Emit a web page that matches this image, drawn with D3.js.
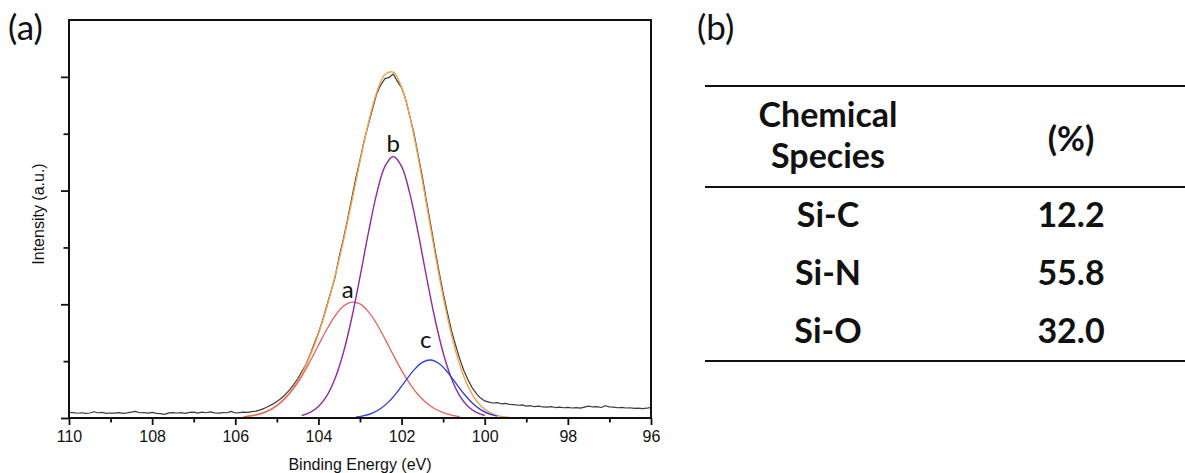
<!DOCTYPE html>
<html>
<head>
<meta charset="utf-8">
<script src="https://cdn.jsdelivr.net/npm/d3@7"></script>
<style>
  html, body { margin: 0; padding: 0; background: #ffffff; }
  svg { display: block; }
</style>
</head>
<body>
<svg id="fig" width="1185" height="473"></svg>
<script>
// ---------- Si 2p spectrum: binding energy (eV) vs intensity (a.u.) ----------
const xMajorTicks = [110, 108, 106, 104, 102, 100, 98, 96];
const xMinorTicks = [109, 107, 105, 103, 101, 99, 97];
const yMajorTicks = [0, 1, 2, 3];
const yMinorTicks = [0.5, 1.5, 2.5];

// measured spectrum [BE, intensity]
const rawSpectrum = [
  [110.0,.050],[109.9,.048],[109.8,.042],[109.7,.046],[109.6,.040],[109.5,.044],[109.4,.055],[109.3,.046],[109.2,.050],[109.1,.041],
  [109.0,.044],[108.9,.043],[108.8,.047],[108.7,.040],[108.6,.045],[108.5,.052],[108.4,.058],[108.3,.046],[108.2,.048],[108.1,.043],
  [108.0,.050],[107.9,.041],[107.8,.038],[107.7,.032],[107.6,.045],[107.5,.048],[107.4,.044],[107.3,.047],[107.2,.040],[107.1,.049],
  [107.0,.052],[106.9,.043],[106.8,.051],[106.7,.046],[106.6,.054],[106.5,.045],[106.4,.043],[106.3,.047],[106.2,.046],[106.1,.058],
  [106.0,.044],[105.9,.048],[105.8,.052],[105.7,.050],[105.6,.056],[105.5,.061],[105.4,.072],[105.3,.085],[105.2,.103],[105.1,.122],
  [105.0,.146],[104.9,.172],[104.8,.205],[104.7,.245],[104.6,.292],[104.5,.345],[104.4,.408],[104.3,.470],[104.2,.556],[104.1,.655],
  [104.0,.748],[103.9,.860],[103.8,.985],[103.7,1.110],[103.6,1.238],[103.5,1.420],[103.4,1.575],[103.3,1.745],[103.2,1.930],[103.1,2.110],
  [103.0,2.270],[102.9,2.440],[102.8,2.580],[102.7,2.715],[102.6,2.850],[102.5,2.930],[102.4,2.985],[102.3,2.995],[102.2,3.025],[102.1,2.960],
  [102.0,2.905],[101.9,2.800],[101.8,2.650],[101.7,2.500],[101.6,2.310],[101.5,2.120],[101.4,1.905],[101.3,1.700],[101.2,1.490],[101.1,1.290],
  [101.0,1.100],[100.9,.930],[100.8,.770],[100.7,.640],[100.6,.520],[100.5,.415],[100.4,.335],[100.3,.265],[100.2,.215],[100.1,.175],
  [100.0,.150],[99.9,.140],[99.8,.132],[99.7,.135],[99.6,.125],[99.5,.128],[99.4,.120],[99.3,.118],[99.2,.112],[99.1,.115],
  [99.0,.105],[98.9,.108],[98.8,.100],[98.7,.104],[98.6,.097],[98.5,.095],[98.4,.100],[98.3,.092],[98.2,.095],[98.1,.090],
  [98.0,.094],[97.9,.088],[97.8,.092],[97.7,.087],[97.6,.096],[97.5,.105],[97.4,.097],[97.3,.100],[97.2,.092],[97.1,.108],
  [97.0,.098],[96.9,.095],[96.8,.090],[96.7,.093],[96.6,.088],[96.5,.090],[96.4,.085],[96.3,.087],[96.2,.083],[96.1,.086],
  [96.0,.094]
];

// fitted envelope
const fitEnvelope = [
  [105.8,.010],[105.6,.020],[105.4,.037],[105.2,.065],[105.0,.110],[104.8,.176],[104.6,.268],[104.4,.391],[104.2,.548],[104.0,.741],
  [103.8,.974],[103.6,1.247],[103.4,1.558],[103.2,1.901],[103.0,2.257],[102.8,2.591],[102.6,2.861],[102.4,3.021],[102.2,3.041],[102.0,2.911],
  [101.8,2.650],[101.6,2.290],[101.4,1.879],[101.2,1.459],[101.0,1.067],[100.8,.733],[100.6,.468],[100.4,.278],[100.2,.152],[100.0,.076],
  [99.8,.034],[99.6,.014],[99.4,.005]
];

// component a (Si-C)
const peakA = [
  [105.8,.010],[105.6,.020],[105.4,.037],[105.2,.065],[105.0,.109],[104.8,.173],[104.6,.259],[104.4,.369],[104.2,.499],[104.0,.640],
  [103.8,.778],[103.6,.898],[103.4,.982],[103.2,1.019],[103.0,1.003],[102.8,.936],[102.6,.829],[102.4,.696],[102.2,.555],[102.0,.419],
  [101.8,.301],[101.6,.204],[101.4,.132],[101.2,.081],[101.0,.047],[100.8,.026],[100.6,.013]
];

// component b (Si-N)
const peakB = [
  [104.4,.022],[104.2,.049],[104.0,.101],[103.8,.195],[103.6,.348],[103.4,.574],[103.2,.877],[103.0,1.241],[102.8,1.625],[102.6,1.971],
  [102.4,2.213],[102.2,2.300],[102.0,2.213],[101.8,1.971],[101.6,1.625],[101.4,1.241],[101.2,.877],[101.0,.574],[100.8,.348],[100.6,.195],
  [100.4,.101],[100.2,.049],[100.0,.022]
];

// component c (Si-O)
const peakC = [
  [103.1,.008],[102.9,.020],[102.7,.043],[102.5,.083],[102.3,.146],[102.1,.231],[101.9,.329],[101.7,.423],[101.5,.489],[101.3,.510],
  [101.1,.479],[100.9,.405],[100.7,.309],[100.5,.213],[100.3,.132],[100.1,.074],[99.9,.037],[99.7,.017]
];

// peak labels: letter, BE and intensity of the apex they sit above
const peakLabels = ["a", "b", "c"];
const peakLabelBE = [103.2, 102.2, 101.3];
const peakLabelI = [1.019, 2.300, 0.510];

// composition table
const tableSpecies = ["Si-C", "Si-N", "Si-O"];
const tablePercent = [12.2, 55.8, 32.0];
const tableHeader = [["Chemical", "Species"], ["(%)"]];

// ---------- layout ----------
const svg = d3.select("#fig");
const plot = { left: 69, right: 651, top: 20, bottom: 418 };

const x = d3.scaleLinear().domain([110, 96]).range([plot.left, plot.right]);
const y = d3.scaleLinear().domain([0, 3.5]).range([plot.bottom, plot.top]);

const axisFont = "'Liberation Sans', Arial, sans-serif";
const calFont = "Lato, 'Open Sans', sans-serif";

// curves
const line = d3.line().x(d => x(d[0])).y(d => y(d[1]));
const smooth = d3.line().x(d => x(d[0])).y(d => y(d[1])).curve(d3.curveCatmullRom.alpha(0.5));

const g = svg.append("g");
g.append("path").datum(rawSpectrum).attr("d", line)
  .attr("fill", "none").attr("stroke", "#3c3c3c").attr("stroke-width", 1.2).attr("stroke-linejoin", "round");
g.append("path").datum(fitEnvelope).attr("d", smooth)
  .attr("fill", "none").attr("stroke", "#f3a24a").attr("stroke-width", 1.4);
g.append("path").datum(peakA).attr("d", smooth)
  .attr("fill", "none").attr("stroke", "#e8625c").attr("stroke-width", 1.3);
g.append("path").datum(peakB).attr("d", smooth)
  .attr("fill", "none").attr("stroke", "#8f2aa0").attr("stroke-width", 1.4);
g.append("path").datum(peakC).attr("d", smooth)
  .attr("fill", "none").attr("stroke", "#2a3ee0").attr("stroke-width", 1.3);

// peak letters
const labelShift = [[-4, -4], [0, -4], [-5, -12]];
g.selectAll("text.peak").data(peakLabels).join("text")
  .attr("class", "peak")
  .attr("x", (d, i) => x(peakLabelBE[i]) + labelShift[i][0])
  .attr("y", (d, i) => y(peakLabelI[i]) + labelShift[i][1])
  .attr("text-anchor", "middle")
  .attr("font-family", calFont).attr("font-size", 24).attr("fill", "#111")
  .text(d => d);

// axes
const xAxisMajor = d3.axisBottom(x).tickValues(xMajorTicks).tickSize(7).tickSizeOuter(0).tickPadding(6).tickFormat(d3.format("d"));
const xAxisMinor = d3.axisBottom(x).tickValues(xMinorTicks).tickSize(4.5).tickSizeOuter(0).tickFormat("");
const yAxisMajor = d3.axisLeft(y).tickValues(yMajorTicks).tickSize(8).tickSizeOuter(0).tickFormat("");
const yAxisMinor = d3.axisLeft(y).tickValues(yMinorTicks).tickSize(5.5).tickSizeOuter(0).tickFormat("");

function styleAxis(sel) {
  sel.attr("font-size", null).attr("font-family", null);
  sel.select(".domain").remove();
  sel.selectAll(".tick line").attr("stroke", "#111").attr("stroke-width", 1.8);
  sel.selectAll(".tick text")
    .style("font-family", axisFont).style("font-size", "16px").attr("fill", "#111");
}
svg.append("g").attr("transform", `translate(0,${plot.bottom})`).call(xAxisMajor).call(styleAxis);
svg.append("g").attr("transform", `translate(0,${plot.bottom})`).call(xAxisMinor).call(styleAxis);
svg.append("g").attr("transform", `translate(${plot.left},0)`).call(yAxisMajor).call(styleAxis);
svg.append("g").attr("transform", `translate(${plot.left},0)`).call(yAxisMinor).call(styleAxis);

// frame
svg.append("rect")
  .attr("x", plot.left).attr("y", plot.top)
  .attr("width", plot.right - plot.left).attr("height", plot.bottom - plot.top)
  .attr("fill", "none").attr("stroke", "#111").attr("stroke-width", 2);

// axis titles
svg.append("text")
  .attr("x", (plot.left + plot.right) / 2).attr("y", 470)
  .attr("text-anchor", "middle")
  .style("font-family", axisFont).style("font-size", "16px").attr("fill", "#111")
  .text("Binding Energy (eV)");
svg.append("text")
  .attr("transform", `translate(44,${(plot.top + plot.bottom) / 2 - 5}) rotate(-90)`)
  .attr("text-anchor", "middle")
  .style("font-family", axisFont).style("font-size", "16px").attr("fill", "#111")
  .text("Intensity (a.u.)");

// panel letters
svg.append("text").attr("x", 8).attr("y", 40)
  .attr("font-family", calFont).attr("font-size", 35).attr("fill", "#111").text("(a)");
svg.append("text").attr("x", 697).attr("y", 40)
  .attr("font-family", calFont).attr("font-size", 35).attr("fill", "#111").text("(b)");

// ---------- table (b) ----------
const table = svg.append("g");
const colX = [828, 1071];
const tableLeft = 705, tableRight = 1185;
const ruleY = [86, 187, 361];
table.selectAll("line.rule").data(ruleY).join("line")
  .attr("class", "rule")
  .attr("x1", tableLeft).attr("x2", tableRight)
  .attr("y1", d => d).attr("y2", d => d)
  .attr("stroke", "#111").attr("stroke-width", 2);

const boldText = sel => sel.attr("font-family", calFont).attr("font-weight", 700)
  .attr("font-size", 34).attr("fill", "#111").attr("text-anchor", "middle");

// header cells
table.append("text").call(boldText).attr("x", colX[0]).attr("y", 127).text(tableHeader[0][0]);
table.append("text").call(boldText).attr("x", colX[0]).attr("y", 168).text(tableHeader[0][1]);
table.append("text").call(boldText).attr("x", colX[1]).attr("y", 151).text(tableHeader[1][0]);

// body rows
const rowY = d3.scalePoint().domain(tableSpecies).range([227, 343]);
const fmt = d3.format(".1f");
table.selectAll("text.species").data(tableSpecies).join("text")
  .attr("class", "species").call(boldText)
  .attr("x", colX[0]).attr("y", d => rowY(d)).text(d => d);
table.selectAll("text.pct").data(tablePercent).join("text")
  .attr("class", "pct").call(boldText)
  .attr("x", colX[1]).attr("y", (d, i) => rowY(tableSpecies[i])).text(d => fmt(d));
</script>
</body>
</html>
